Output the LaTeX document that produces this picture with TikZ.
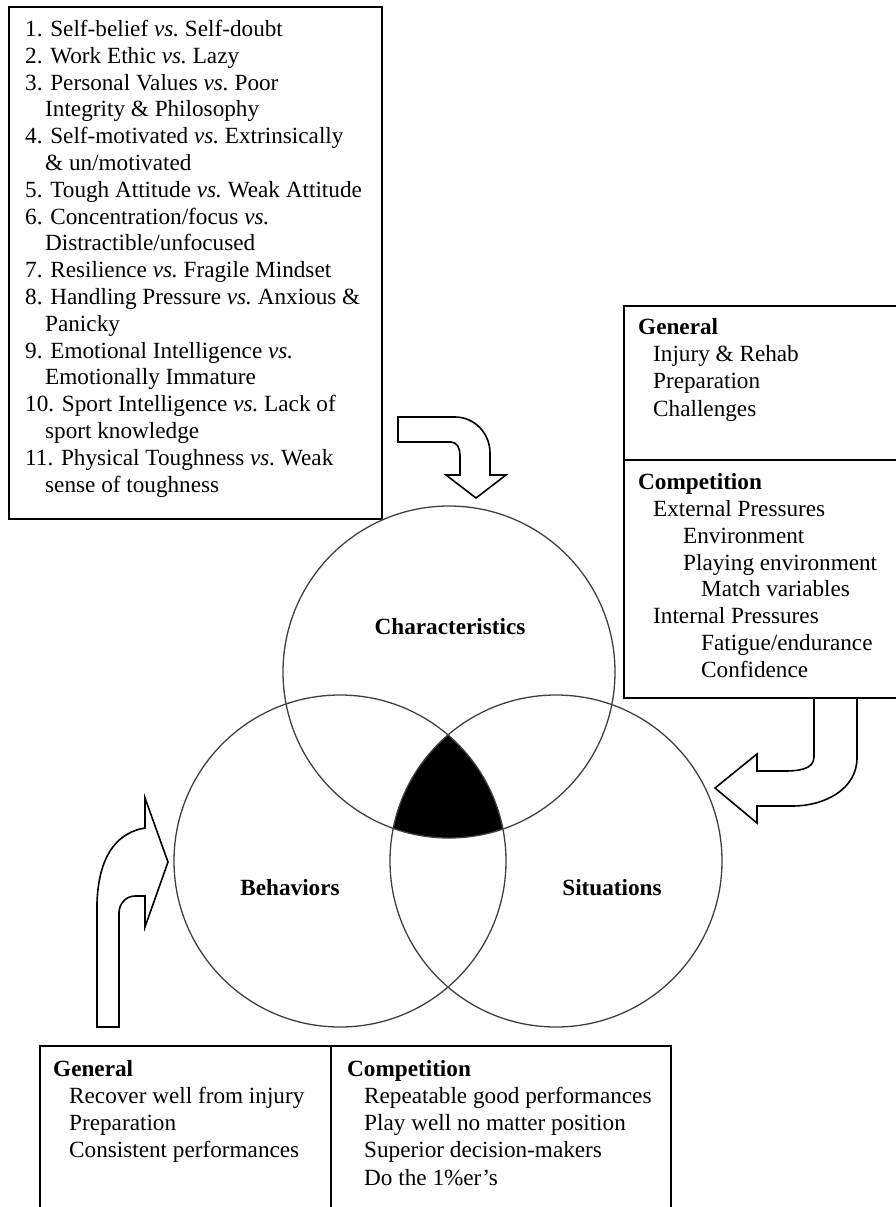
\documentclass[tikz,border=0pt]{standalone}
\usepackage{fontspec}
\setmainfont{Liberation Serif}
\newcommand\boxfont{\fontsize{23.2}{27.2}\selectfont}
\newcommand\versus{\emph{vs.}}
\newcommand\ind[1]{\hspace*{#1pt}}
\begin{document}
\begin{tikzpicture}[x=1pt, y=1pt,
    boxline/.style={line width=1.8pt},
    ring/.style={line width=1.3pt, draw=black!75},
    fatarrow/.style={line width=1.6pt, fill=white, line join=miter},
    listtext/.style={anchor=north west, inner sep=0pt, align=left, font=\boxfont},
    ringlabel/.style={inner sep=0pt, font=\boxfont\bfseries}]
\useasboundingbox (0,0) rectangle (896,-1207);
%
% characteristics list, top left
\draw[boxline] (9,-7) rectangle (382,-519);
\node[listtext, font=\fontsize{23.2}{26.8}\selectfont] (traits) at (25,-20) {%
1. Self-belief \versus\ Self-doubt\\
2. Work Ethic \versus\ Lazy\\
3. Personal Values \versus\ Poor\\
\ind{20}Integrity \& Philosophy\\
4. Self-motivated \versus\ Extrinsically\\
\ind{20}\& un/motivated\\
5. Tough Attitude \versus\ Weak Attitude\\
6. Concentration/focus \versus\\
\ind{20}Distractible/unfocused\\
7. Resilience \versus\ Fragile Mindset\\
8. Handling Pressure \versus\ Anxious \&\\
\ind{20}Panicky\\
9. Emotional Intelligence \versus\\
\ind{20}Emotionally Immature\\
10. Sport Intelligence \versus\ Lack of\\
\ind{20}sport knowledge\\
11. Physical Toughness \versus\ Weak\\
\ind{20}sense of toughness};
%
% situations list, right (runs off the page)
\draw[boxline] (905,-306) -| (624,-698) -- (905,-698);
\draw[boxline] (624,-460) -- (905,-460);
\node[listtext, font=\fontsize{23.2}{27.3}\selectfont] (sitgen) at (638,-318) {%
\textbf{General}\\
\ind{15}Injury \& Rehab\\
\ind{15}Preparation\\
\ind{15}Challenges};
\node[listtext, font=\fontsize{23.2}{26.9}\selectfont] (sitcomp) at (638,-473) {%
\textbf{Competition}\\
\ind{15}External Pressures\\
\ind{45}Environment\\
\ind{45}Playing environment\\
\ind{63}Match variables\\
\ind{15}Internal Pressures\\
\ind{63}Fatigue/endurance\\
\ind{63}Confidence};
%
% behaviors list, bottom (open at the page edge)
\draw[boxline] (40,-1215) |- (671,-1046) -- (671,-1215);
\draw[boxline] (331,-1046) -- (331,-1215);
\node[listtext] (behgen) at (53,-1060) {%
\textbf{General}\\
\ind{16}Recover well from injury\\
\ind{16}Preparation\\
\ind{16}Consistent performances};
\node[listtext] (behcomp) at (347,-1060) {%
\textbf{Competition}\\
\ind{17}Repeatable good performances\\
\ind{17}Play well no matter position\\
\ind{17}Superior decision-makers\\
\ind{17}Do the 1\%er’s};
%
% the three rings
\coordinate (charc) at (449,-672);
\coordinate (behc) at (340,-861);
\coordinate (sitc) at (556,-861);
\begin{scope} %black middle
    \clip (charc) circle[radius=166];
    \clip (behc) circle[radius=166];
    \fill (sitc) circle[radius=166];
\end{scope}
\draw[ring] (charc) circle[radius=166];
\draw[ring] (behc) circle[radius=166];
\draw[ring] (sitc) circle[radius=166];
\node[ringlabel] (charlab) at (450,-627) {Characteristics};
\node[ringlabel] (behlab) at (290,-888) {Behaviors};
\node[ringlabel] (sitlab) at (612,-888) {Situations};
%
% bent arrows
%  ___
%     \
%    \/
\draw[fatarrow]
(398,-417) -- (455,-417) to[out=0, in=90]
(490,-453) -- (490,-475) -- (506,-475) -- (476,-498) -- (446,-475) -- %head
(460,-475) -- (460,-455) to[out=90, in=0]
(451,-442) -- (398,-442) -- cycle;
% from the situations box
\draw[fatarrow]
(857,-699) -- (857,-758) to[out=-90, in=0]
(793,-806) -- (757,-806) -- (757,-823) -- (715,-788) -- (757,-754) -- %head
(757,-771) -- (784,-771) to[out=0, in=-90]
(814,-757) -- (814,-699);
% from the behaviors box
\draw[fatarrow]
(97,-1027) -- (97,-903) to[out=88, in=195]
(140,-829) -- (145,-828) -- (145,-798) -- (168,-862) -- (145,-927) -- %head
(145,-896) -- (135,-896) to[out=180, in=90]
(119,-913) -- (119,-1027) -- cycle;
\end{tikzpicture}
\end{document}
